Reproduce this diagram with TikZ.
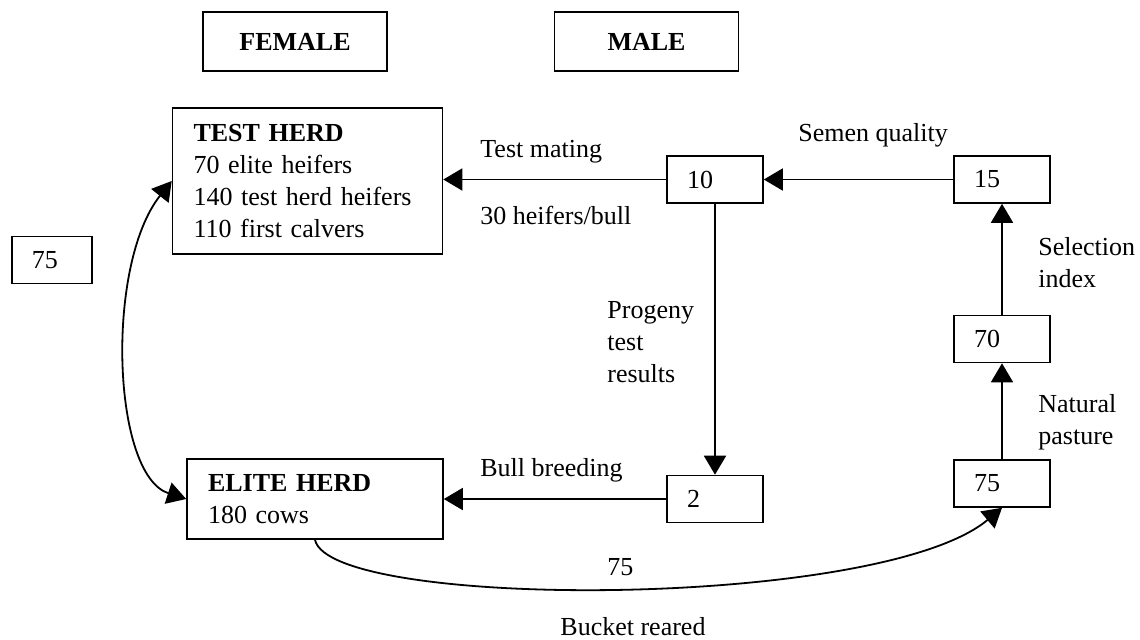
\documentclass[tikz,border=0pt]{standalone}
\usepackage{fontspec}
\setmainfont{Liberation Serif}
\usepackage{tikz}
\usetikzlibrary{arrows.meta}

\begin{document}
\begin{tikzpicture}[x=0.5pt, y=-0.5pt, font=\fontsize{13pt}{16pt}\selectfont,
        box/.style={draw, line width=0.8pt, inner ysep=0pt},
        head/.style={box, font=\fontsize{13pt}{16pt}\selectfont\bfseries, minimum width=92pt, minimum height=29.5pt},
        numbox/.style={box, minimum height=23.5pt, text width=28pt, inner xsep=10pt, align=left},
        herd/.style={box, inner xsep=10.5pt, align=left},
        lbl/.style={anchor=west, inner sep=0pt, align=left},
        arr/.style={-{Triangle[length=9.5pt, width=11pt]}, line width=0.9pt}]
        \useasboundingbox (0,0) rectangle (1140,639);
        % Draw the column headings
        \node[head] (female) at (295,41.5) {FEMALE};
        \node[head] (male) at (646.5,41.5) {MALE};
        % Draw the herds
        \node[herd, text width=114pt, minimum height=73pt] (test) at (307.5,181)
            {\textbf{TEST HERD}\\70 elite heifers\\140 test herd heifers\\110 first calvers};
        \node[herd, text width=107pt, minimum height=40pt] (elite) at (315,499)
            {\textbf{ELITE HERD}\\180 cows};
        \node[numbox, text width=20pt] (lone) at (52,260) {75};
        % Draw the bull boxes
        \node[numbox] (ten) at (715,179.5) {10};
        \node[numbox] (fifteen) at (1002,179.5) {15};
        \node[numbox] (seventy) at (1002,339) {70};
        \node[numbox] (pasture) at (1002,483.5) {75};
        \node[numbox] (two) at (715,499) {2};
        % Draw the straight arrows
        \draw[arr] (ten.west) -- (test.east |- ten.west);
        \draw[arr] (fifteen.west) -- (ten.east);
        \draw[arr] (ten.south) -- (two.north);
        \draw[arr] (seventy.north) -- (fifteen.south);
        \draw[arr] (pasture.north) -- (seventy.south);
        \draw[arr] (two.west) -- (elite.east);
        % Draw the curved arrows
        \draw[{Triangle[length=9.5pt, width=11pt]}-{Triangle[length=9.5pt, width=11pt]}, line width=0.9pt]
            (test.west) .. controls (105,265) and (112,475) .. (elite.west);
        \draw[arr] (elite.south) .. controls (330,610) and (880,610) .. (pasture.south);
        % Draw the labels
        \node[lbl] (mating) at (480,152) {Test mating};
        \node[lbl] (perbull) at (480,215) {30 heifers/bull};
        \node[lbl] (semen) at (798,135) {Semen quality};
        \node[lbl] (index) at (1038,263) {Selection\\index};
        \node[lbl] (natural) at (1038,422) {Natural\\pasture};
        \node[lbl] (progeny) at (607,342.5) {Progeny\\test\\results};
        \node[lbl] (breeding) at (480,470) {Bull breeding};
        \node[lbl] (reared) at (607,567) {75};
        \node[lbl] (bucket) at (560,627) {Bucket reared};
\end{tikzpicture}
\end{document}
